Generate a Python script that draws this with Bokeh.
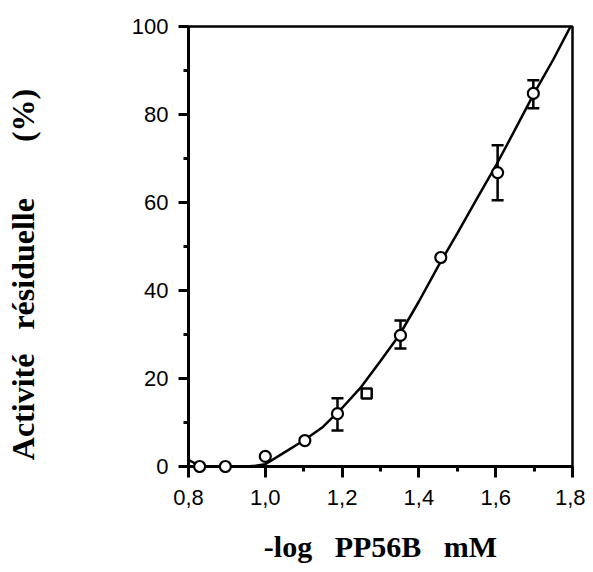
from bokeh.plotting import figure
from bokeh.models import (ColumnDataSource, Range1d, FixedTicker, CustomJSTickFormatter,
                          Whisker, TeeHead, LinearAxis)
from bokeh.embed import file_html
from bokeh.resources import INLINE

# ---- data ----
circle_x = [0.829, 0.896, 1.000, 1.103, 1.188, 1.352, 1.457, 1.605, 1.698]
circle_y = [0.0, 0.0, 2.3, 5.9, 12.0, 29.8, 47.5, 66.8, 84.8]
square_x = [1.264]
square_y = [16.6]
err_x = [1.188, 1.352, 1.605, 1.698]
err_lo = [8.2, 26.8, 60.5, 81.4]
err_hi = [15.5, 33.2, 73.0, 87.8]
curve_x = [0.800, 0.815, 0.830, 0.850, 0.900, 0.950, 0.975, 1.000, 1.050, 1.100, 1.150,
           1.200, 1.250, 1.300, 1.350, 1.400, 1.450, 1.500, 1.550, 1.600, 1.650, 1.700,
           1.750, 1.795]
curve_y = [1.5, 0.8, 0.2, 0.0, 0.0, 0.0, 0.2, 0.5, 3.2, 5.9, 9.0,
           13.3, 18.1, 24.0, 30.0, 37.5, 45.5, 53.0, 60.7, 68.3, 76.5, 84.8,
           92.5, 100.0]
x_ticks = [0.8, 1.0, 1.2, 1.4, 1.6, 1.8]
x_tick_labels = ["0,8", "1,0", "1,2", "1,4", "1,6", "1,8"]
x_minor = [0.9, 1.1, 1.3, 1.5, 1.7]
y_ticks = [0, 20, 40, 60, 80, 100]
y_tick_labels = ["0", "20", "40", "60", "80", "100"]
y_minor = [10, 30, 50, 70, 90]
x_title = "-log\u00a0\u00a0 PP56B\u00a0\u00a0 mM"
y_title = "Activité\u00a0\u00a0 résiduelle" + "\u00a0" * 6 + " (%)" + "\u00a0" * 7

p = figure(width=585, height=566, output_backend="svg", toolbar_location=None,
           x_range=Range1d(0.8, 1.8), y_range=Range1d(0, 100),
           min_border_left=188, min_border_right=13, min_border_top=26, min_border_bottom=100)
p.outline_line_color = "black"
p.outline_line_width = 2.5
p.outline_line_alpha = 1.0
p.xgrid.visible = False
p.ygrid.visible = False
p.background_fill_color = "white"
p.border_fill_color = "white"

def fmt(tvals, labels):
    return CustomJSTickFormatter(args=dict(tv=tvals, lab=labels), code="""
        let best = 0, bd = 1e9;
        for (let i = 0; i < tv.length; i++) {
            const d = Math.abs(tv[i] - tick);
            if (d < bd) { bd = d; best = i; }
        }
        return lab[best];
    """)

for ax, ticks, minor, labels in (
        (p.xaxis[0], x_ticks, x_minor, x_tick_labels),
        (p.yaxis[0], y_ticks, y_minor, y_tick_labels)):
    ax.ticker = FixedTicker(ticks=ticks, minor_ticks=minor)
    ax.formatter = fmt(ticks, labels)
    ax.axis_line_width = 3
    ax.major_tick_line_width = 3
    ax.minor_tick_line_width = 3
    ax.major_tick_in = 0
    ax.minor_tick_in = 0
    ax.minor_tick_out = 5
    ax.major_label_text_font = "Liberation Sans"
    ax.major_label_text_font_size = "22px"
    ax.major_label_text_color = "black"
    ax.axis_line_color = "black"
    ax.major_tick_line_color = "black"
    ax.minor_tick_line_color = "black"

p.xaxis.major_tick_out = 11
p.xaxis.major_label_standoff = 12
p.yaxis.major_tick_out = 10
p.yaxis.major_label_standoff = 10

# x title on the x axis
p.xaxis.axis_label = x_title
p.xaxis.axis_label_text_font = "Liberation Serif"
p.xaxis.axis_label_text_font_style = "bold"
p.xaxis.axis_label_text_font_size = "30px"
p.xaxis.axis_label_text_color = "black"
p.xaxis.axis_label_standoff = 22

# y title on an extra, invisible left axis
yt = LinearAxis(axis_line_color=None, major_tick_line_color=None,
                minor_tick_line_color=None, major_label_text_font_size="0px",
                major_tick_out=0, minor_tick_out=0, major_label_standoff=0,
                ticker=FixedTicker(ticks=[]))
yt.axis_label = y_title
yt.axis_label_text_font = "Liberation Serif"
yt.axis_label_text_font_style = "bold"
yt.axis_label_text_font_size = "32px"
yt.axis_label_text_color = "black"
yt.axis_label_standoff = 88
p.add_layout(yt, "left")

esrc = ColumnDataSource(dict(x=err_x, lo=err_lo, hi=err_hi))
p.add_layout(Whisker(source=esrc, base="x", lower="lo", upper="hi", dimension="height",
                     line_width=2.5, line_color="black",
                     upper_head=TeeHead(size=12, line_width=2.5, line_color="black"),
                     lower_head=TeeHead(size=12, line_width=2.5, line_color="black")))

p.line(curve_x, curve_y, line_width=2.5, line_color="black")
p.scatter(circle_x, circle_y, marker="circle", size=11, fill_color="white",
          line_color="black", line_width=2.2, level="overlay")
p.scatter(square_x, square_y, marker="square", size=10, fill_color="white",
          line_color="black", line_width=2.5, level="overlay")

open("out.html", "w").write(file_html(p, INLINE))
